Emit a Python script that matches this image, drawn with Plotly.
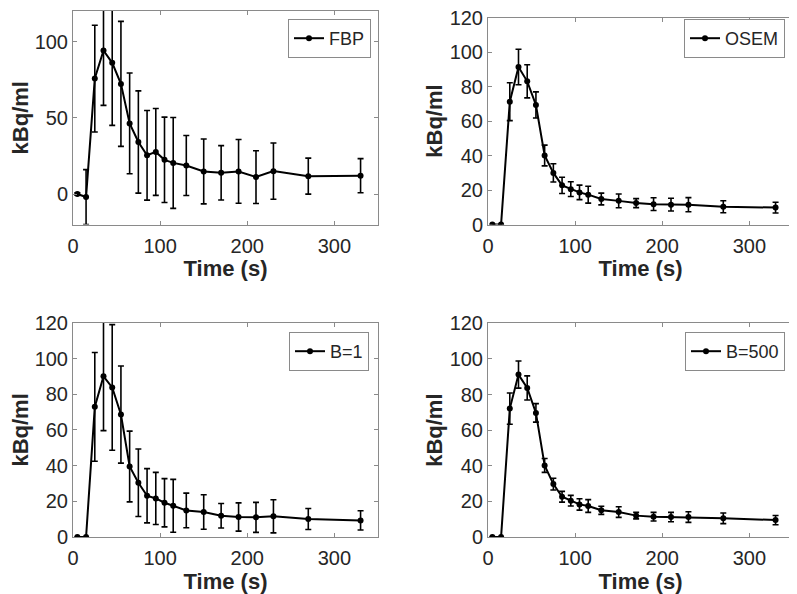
import plotly.graph_objects as go

time_s = [5, 15, 25, 35, 45, 55, 65, 75, 85, 95, 105, 115, 130, 150, 170, 190, 210, 230, 270, 330]

fbp_val = [0, -2, 75.7, 94.1, 86.0, 72.2, 46.3, 34.1, 25.4, 27.6, 22.4, 20.4, 18.7, 14.8, 13.9, 14.8, 11.1, 15.0, 11.7, 12.0]
fbp_err = [0.8, 18, 35, 36, 41, 41, 33, 33.5, 29.4, 28.5, 28, 29.8, 19.7, 21.3, 17.8, 20.9, 17.3, 18.4, 11.8, 11.2]

osem_val = [0, 0, 71.2, 91.3, 83.0, 69.3, 40.0, 29.9, 22.7, 20.5, 18.6, 17.3, 14.8, 13.7, 12.4, 11.8, 11.5, 11.5, 10.3, 9.8]
osem_err = [0, 0, 11, 10.3, 9.6, 7.6, 6, 5.3, 4.7, 4.3, 4.2, 4.9, 3.4, 4.0, 2.6, 3.7, 3.7, 4.1, 3.5, 3.1]

b1_val = [0, 0, 72.9, 90.0, 83.8, 68.6, 39.5, 30.4, 23.1, 21.6, 19.2, 17.5, 14.9, 14.0, 11.9, 11.2, 11.0, 11.6, 10.1, 9.3]
b1_err = [0, 0, 30.5, 30.4, 35.2, 27.2, 19.8, 18.9, 15.2, 14.6, 13.5, 14.8, 9.7, 9.7, 6.9, 7.9, 8.4, 9.3, 5.9, 5.4]

b500_val = [0, 0, 72.1, 91.2, 83.7, 69.7, 40.2, 29.7, 22.6, 20.4, 18.3, 17.4, 15.0, 14.0, 12.0, 11.4, 11.2, 11.2, 10.5, 9.5]
b500_err = [0, 0, 8.8, 7.6, 6.8, 5.2, 3.9, 3.3, 3.0, 3.0, 3.2, 3.6, 2.3, 3.0, 1.8, 2.4, 2.6, 3.0, 3.0, 2.6]

names = ["FBP", "OSEM", "B=1", "B=500"]
vals = [fbp_val, osem_val, b1_val, b500_val]
errs = [fbp_err, osem_err, b1_err, b500_err]
x_ticks = [0, 100, 200, 300]
y_ticks_fbp = [0, 50, 100]
y_ticks = [0, 20, 40, 60, 80, 100, 120]

# the page body has an 8 px margin: figure coordinates = page coordinates - 8
W, H = 789, 586
OFF = 8
def px(a, b):
    return [(a - OFF) / W, (b - OFF) / W]
def py(top, bottom):
    return [1 - (bottom - OFF) / H, 1 - (top - OFF) / H]

doms = [
    (px(73, 378), py(11, 224.5)),
    (px(488, 793), py(17.5, 224.5)),
    (px(73, 378), py(322.8, 537)),
    (px(488, 793), py(323.3, 537)),
]
yranges = [[-20, 120], [0, 120], [0, 120], [0, 120]]
ytickss = [y_ticks_fbp, y_ticks, y_ticks, y_ticks]
leg_pos = [(371, 19), (785, 19), (369, 332), (785, 332)]
ytitle_standoff = [0, 0, 0, 0]
xtitle_standoff = [5, 5, 4, 4]

FONT = "Liberation Sans, Arial, Helvetica, sans-serif"
AXC = "#8a8a8a"
TXT = "#262626"

fig = go.Figure()
layout = dict(
    width=W, height=H,
    margin=dict(l=0, r=0, t=0, b=0, autoexpand=False),
    paper_bgcolor="white", plot_bgcolor="white",
    font=dict(family=FONT, size=20, color=TXT),
    showlegend=True,
)

for i in range(4):
    sx = "" if i == 0 else str(i + 1)
    leg = "legend" if i == 0 else "legend" + str(i + 1)
    fig.add_trace(go.Scatter(
        x=time_s, y=vals[i], name=names[i],
        mode="lines+markers",
        line=dict(color="black", width=2),
        marker=dict(color="black", size=6),
        error_y=dict(type="data", array=errs[i], visible=True, color="black", thickness=1.6, width=3),
        xaxis="x" + sx, yaxis="y" + sx, legend=leg, cliponaxis=True,
    ))
    (xd, yd) = doms[i]
    axcommon = dict(
        showline=True, linecolor=AXC, linewidth=1, mirror="ticks",
        ticks="inside", ticklen=4, tickcolor=AXC, tickwidth=1,
        showgrid=False, zeroline=False, automargin=True,
        ticklabeloverflow="allow",
        tickfont=dict(family=FONT, size=20, color=TXT),
    )
    layout["xaxis" + sx] = dict(
        domain=xd, range=[0, 350], tickvals=x_ticks, anchor="y" + sx,
        ticklabelstandoff=3,
        title=dict(text="<b>Time (s)</b>", font=dict(family=FONT, size=22, color=TXT),
                   standoff=xtitle_standoff[i]),
        **axcommon,
    )
    layout["yaxis" + sx] = dict(
        domain=yd, range=yranges[i], tickvals=ytickss[i], anchor="x" + sx,
        title=dict(text="<b>kBq/ml</b>", font=dict(family=FONT, size=22, color=TXT),
                   standoff=ytitle_standoff[i]),
        **axcommon,
    )
    lx, ly = leg_pos[i]
    layout[leg] = dict(
        x=(lx - OFF) / W, y=1 - (ly - OFF) / H, xanchor="right", yanchor="top",
        bgcolor="white", bordercolor=AXC, borderwidth=1,
        font=dict(family=FONT, size=18, color=TXT),
        itemwidth=30, tracegroupgap=0,
    )

fig.update_layout(**layout)
fig.write_html("out.html")
